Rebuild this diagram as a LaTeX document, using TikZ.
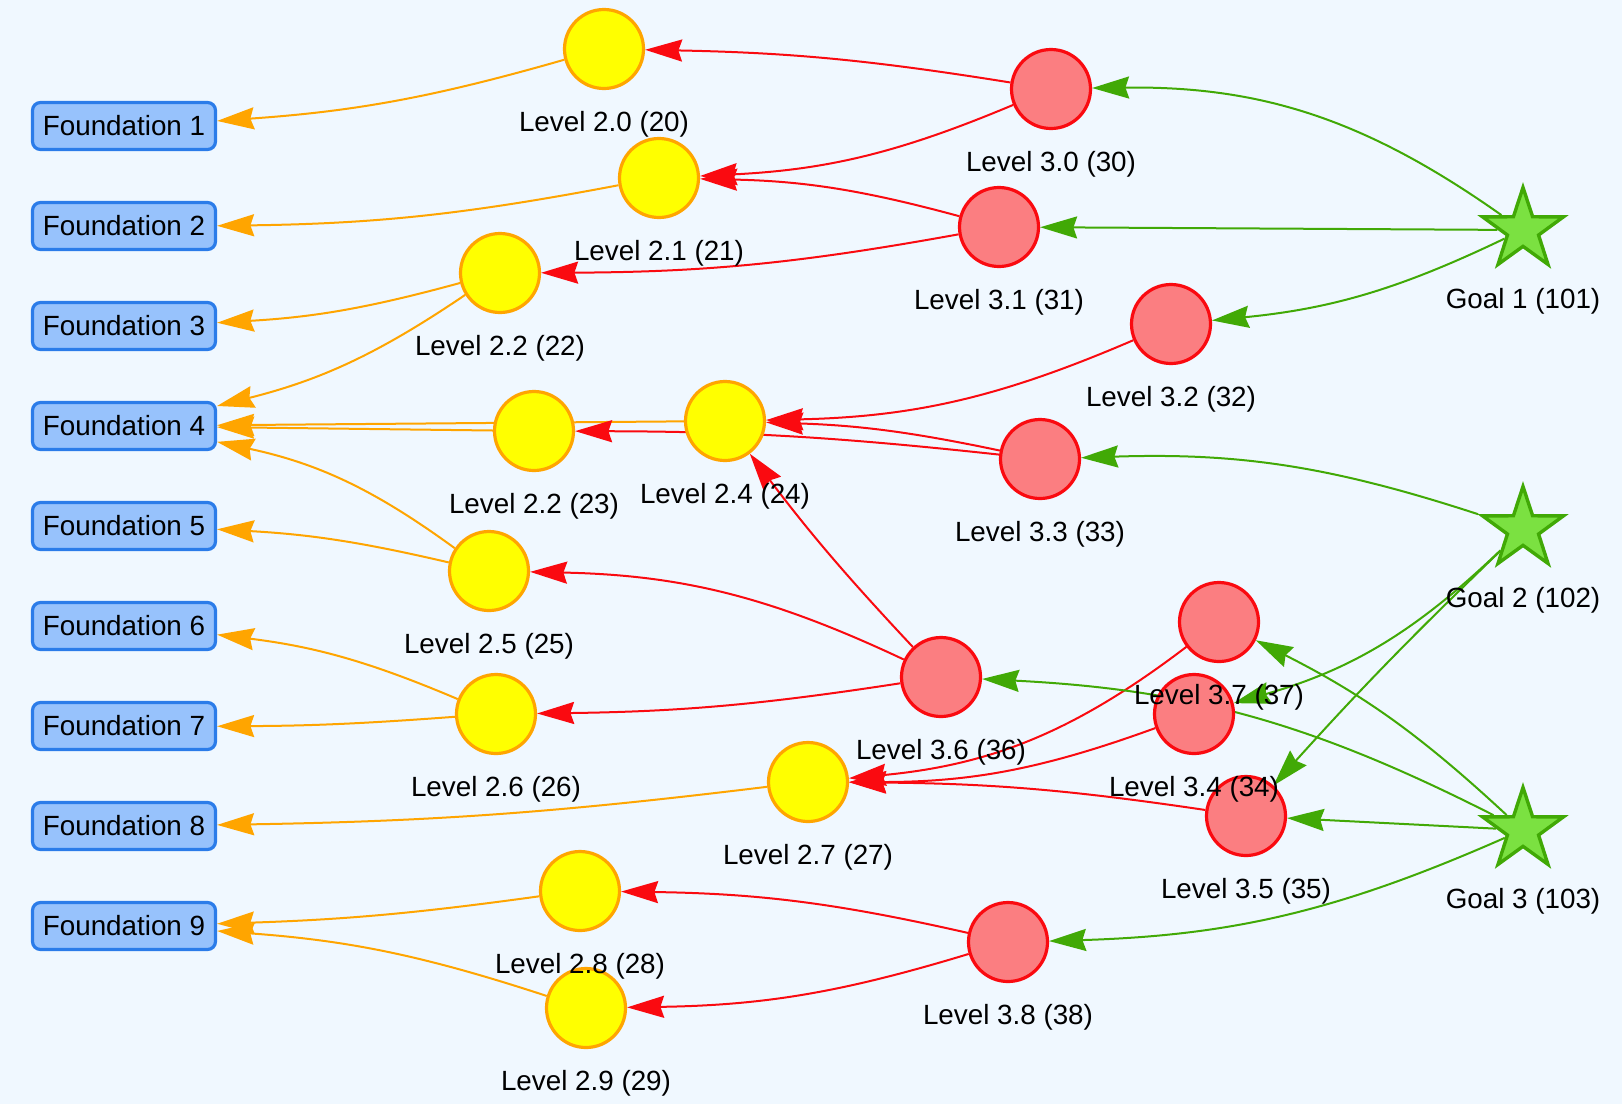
\documentclass[tikz,border=0pt]{standalone}
\usepackage{fontspec}
\setmainfont{Liberation Sans}
\usetikzlibrary{arrows.meta,shapes.geometric}
\definecolor{canvas}{HTML}{F0F8FF}
\definecolor{boxfill}{HTML}{97C2FC}
\definecolor{boxline}{HTML}{2B7CE9}
\definecolor{yelfill}{HTML}{FFFF00}
\definecolor{yelline}{HTML}{FFA500}
\definecolor{redfill}{HTML}{FB7E81}
\definecolor{redline}{HTML}{FA0A10}
\definecolor{grnfill}{HTML}{7BE141}
\definecolor{grnline}{HTML}{41A906}
\pgfdeclarelayer{backdrop}
\pgfdeclarelayer{links}
\pgfsetlayers{backdrop,links,main}
\begin{document}
\begin{tikzpicture}[x=1pt, y=-1pt,
    font=\fontsize{27.8pt}{33pt}\selectfont,
    foundation/.style={rectangle, rounded corners=8pt, draw=boxline, fill=boxfill, line width=3.2pt, minimum width=183pt, minimum height=47pt, inner sep=0pt},
    level2/.style={circle, draw=yelline, fill=yelfill, line width=3.2pt, minimum size=79pt, inner sep=0pt},
    level3/.style={circle, draw=redline, fill=redfill, line width=3.2pt, minimum size=79pt, inner sep=0pt},
    goal/.style={star, star points=5, star point ratio=2.6, draw=grnline, fill=grnfill, line width=3.4pt, minimum size=85pt, inner sep=0pt},
    every label/.style={inner sep=0pt, text height=20pt, text depth=6pt},
    levelname/.style={label={[yshift=-75pt]center:#1}},
    goalname/.style={label={[yshift=-71pt]center:#1}},
    headed/.style={-{Stealth[length=37pt, width=22pt, inset=3.7pt]}, line width=2pt},
    toFoundation/.style={headed, draw=yelline},
    toLevel2/.style={headed, draw=redline},
    toLevel3/.style={headed, draw=grnline}]
   \useasboundingbox (0,0) rectangle (1622,1104);
   \begin{pgfonlayer}{backdrop}
     \fill[canvas] (0,0) rectangle (1622,1104);
   \end{pgfonlayer}

   % foundations
   \node[foundation] (f1) at (124,126) {Foundation 1};
   \node[foundation] (f2) at (124,226) {Foundation 2};
   \node[foundation] (f3) at (124,326) {Foundation 3};
   \node[foundation] (f4) at (124,426) {Foundation 4};
   \node[foundation] (f5) at (124,526) {Foundation 5};
   \node[foundation] (f6) at (124,626) {Foundation 6};
   \node[foundation] (f7) at (124,726) {Foundation 7};
   \node[foundation] (f8) at (124,826) {Foundation 8};
   \node[foundation] (f9) at (124,926) {Foundation 9};

   % level 2
   \node[level2, levelname=Level 2.0 (20)] (n20) at (604,49)  {};
   \node[level2, levelname=Level 2.1 (21)] (n21) at (659,178) {};
   \node[level2, levelname=Level 2.2 (22)] (n22) at (500,273) {};
   \node[level2, levelname=Level 2.2 (23)] (n23) at (534,431) {};
   \node[level2, levelname=Level 2.4 (24)] (n24) at (725,421) {};
   \node[level2, levelname=Level 2.5 (25)] (n25) at (489,571) {};
   \node[level2, levelname=Level 2.6 (26)] (n26) at (496,714) {};
   \node[level2, levelname=Level 2.7 (27)] (n27) at (808,782) {};
   \node[level2, levelname=Level 2.9 (29)] (n29) at (586,1008) {};
   \node[level2, levelname=Level 2.8 (28)] (n28) at (580,891) {};

   % level 3
   \node[level3, levelname=Level 3.0 (30)] (n30) at (1051,89)  {};
   \node[level3, levelname=Level 3.1 (31)] (n31) at (999,227)  {};
   \node[level3, levelname=Level 3.2 (32)] (n32) at (1171,324) {};
   \node[level3, levelname=Level 3.3 (33)] (n33) at (1040,459) {};
   \node[level3, levelname=Level 3.5 (35)] (n35) at (1246,816) {};
   \node[level3, levelname=Level 3.4 (34)] (n34) at (1194,714) {};
   \node[level3, levelname=Level 3.7 (37)] (n37) at (1219,622) {};
   \node[level3, levelname=Level 3.6 (36)] (n36) at (941,677)  {};
   \node[level3, levelname=Level 3.8 (38)] (n38) at (1008,942) {};

   % goals
   \node[goal, goalname=Goal 1 (101)] (g101) at (1523,230) {};
   \node[goal, goalname=Goal 2 (102)] (g102) at (1523,529) {};
   \node[goal, goalname=Goal 3 (103)] (g103) at (1523,830) {};

   \begin{pgfonlayer}{links}
   \draw[toFoundation] (n20) to[bend left=6]   (f1);
   \draw[toFoundation] (n21) to[bend left=5]   (f2);
   \draw[toFoundation] (n22) to[bend left=6]   (f3);
   \draw[toFoundation] (n22) to[bend left=10]  (f4);
   \draw[toFoundation] (n23) to                (f4);
   \draw[toFoundation] (n24) to                (f4);
   \draw[toFoundation] (n25) to[bend right=12] (f4);
   \draw[toFoundation] (n25) to[bend right=5]  (f5);
   \draw[toFoundation] (n26) to[bend right=8]  (f6);
   \draw[toFoundation] (n26) to[bend left=2]   (f7);
   \draw[toFoundation] (n27) to[bend left=3]   (f8);
   \draw[toFoundation] (n28) to[bend left=3]   (f9);
   \draw[toFoundation] (n29) to[bend right=7]  (f9);

   \draw[toLevel2] (n30) to[bend right=4]  (n20);
   \draw[toLevel2] (n30) to[bend left=10]  (n21);
   \draw[toLevel2] (n31) to[bend right=7]  (n21);
   \draw[toLevel2] (n31) to[bend left=5]   (n22);
   \draw[toLevel2] (n32) to[bend left=11]  (n24);
   \draw[toLevel2] (n33) to[bend right=5]  (n24);
   \draw[toLevel2] (n33) to[bend right=3]  (n23);
   \draw[toLevel2] (n36) to[bend left=3]   (n24);
   \draw[toLevel2] (n36) to[bend right=12] (n25);
   \draw[toLevel2] (n36) to[bend left=4]   (n26);
   \draw[toLevel2] (n37) to[bend left=16]  (n27);
   \draw[toLevel2] (n34) to[bend left=10]  (n27);
   \draw[toLevel2] (n35) to[bend right=4]  (n27);
   \draw[toLevel2] (n38) to[bend right=6]  (n28);
   \draw[toLevel2] (n38) to[bend left=8]   (n29);

   \draw[toLevel3] (g101) to[bend right=18] (n30);
   \draw[toLevel3] (g101) to                (n31);
   \draw[toLevel3] (g101) to[bend left=10]  (n32);
   \draw[toLevel3] (g102) to[bend right=10] (n33);
   \draw[toLevel3] (g102) to[bend left=14]  (n34);
   \draw[toLevel3] (g102) to[bend right=2]  (n35);
   \draw[toLevel3] (g103) to[bend right=12] (n36);
   \draw[toLevel3] (g103) to[bend right=8]  (n37);
   \draw[toLevel3] (g103) to                (n35);
   \draw[toLevel3] (g103) to[bend left=11]  (n38);
   \end{pgfonlayer}

 \end{tikzpicture}
\end{document}
